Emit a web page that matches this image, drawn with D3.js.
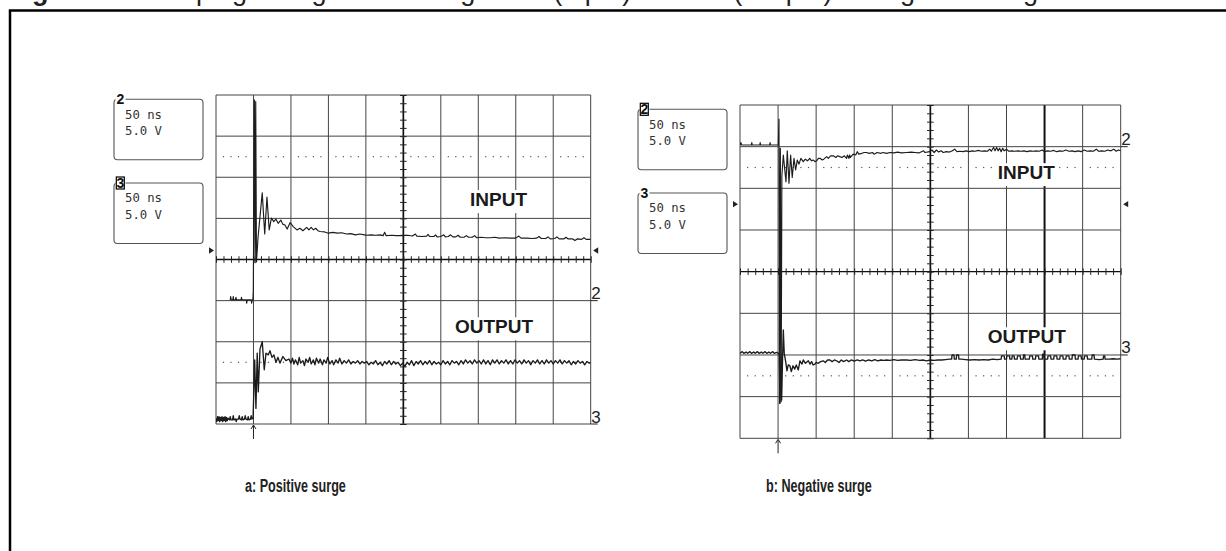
<!DOCTYPE html>
<html><head><meta charset="utf-8">
<script src="https://cdn.jsdelivr.net/npm/d3@7"></script>
<style>
html,body{margin:0;padding:0;background:#fff;overflow:hidden}
</style></head>
<body>
<svg id="c" width="1226" height="551"></svg>
<script>
// ---------------- data ----------------
const titleBold = "Figure 8.";
const titleText = "Clamping voltage at the stages C1 (Input) and C2 (Output) during ESD surge";
const timePerDiv = "50 ns";
const voltPerDiv = "5.0 V";
const timeDomain = [0, 500];        // ns, 10 div x 50 ns
const voltDomain = [-20, 20];       // V, 8 div x 5 V
const majorTimeTicks = [0, 50, 100, 150, 200, 250, 300, 350, 400, 450, 500];
const majorVoltTicks = [-20, -15, -10, -5, 0, 5, 10, 15, 20];
const dottedLevels = [12.5, -12.5];
const triggerTime = 50;
const trigLevelA = 1.1, trigLevelB = 8.1;
const refChannels = ["2", "3"];
const refsA = [-5, -20];
const refsB = [15, -10];
const cursorB = 400;
const traceNames = ["INPUT", "OUTPUT"];
const captions = ["a: Positive surge", "b: Negative surge"];

const inA = [
[19,-4.9],[19.6,-4.5],[20.2,-4.9],[22.5,-4.9],[23,-4.5],[23.6,-4.9],[26,-4.9],[26.7,-4.6],[27.3,-4.9],[33.5,-4.9],[34,-4.6],[34.6,-4.9],[40.5,-4.9],[41,-5.3],[41.6,-4.9],[47,-4.9],[47.6,-5.3],[48.2,-4.9],[49.2,-4.9],[49.8,-3.8],
[51.2,19.4],[52.2,-0.4],[53,19.2],[54,-0.3],
[56.2,2.8],[61.7,8.1],[65,3.1],[68,7.6],[71,3.6],[74,5.05],[77,4.6],[80,4.9],[83,4.4],[86.5,4.8],[89,4.3],[92,4.2],[95,3.7],[99,4.5],[103,4.0],[108,3.6],[112,3.8],[116,3.5],[121,3.9],[124,3.6],[127,3.9],[130,3.6],[133,3.8],[136,3.5],[139,3.4],[145,3.35],[150,3.2],[156,3.3],[162,3.2],[168,3.25],[174,3.1],[180,3.15],[186,3.0],[192,3.1],[198,3.0],[201,2.95],[207,3.0],[213,2.95],[219,3.0],[223,2.9],[225,3.3],[227,2.9],[235,2.95],[240,2.9],[245,2.9],
[250,2.9],[256,2.95],[262,2.85],[266,3.1],[268,2.85],[275,2.8],[281,2.85],[283,3.05],[285,2.8],[291,2.8],[293,3.0],[295,2.75],[300,2.8],[304,3.0],[306,2.75],[310,2.8],[313,3.0],[316,2.75],[320,2.75],[323,2.95],[326,2.7],[331,2.7],[334,2.9],[337,2.7],[342,2.7],[345,2.9],[348,2.65],[354,2.7],[360,2.65],[366,2.65],[372,2.7],[378,2.6],[386,2.65],[392,2.6],[400,2.6],[404,2.85],[407,2.6],[415,2.6],[422,2.55],[428,2.6],[431,2.8],[434,2.55],[440,2.55],[443,2.75],[446,2.5],[452,2.55],[455,2.75],[458,2.5],[464,2.5],[467,2.7],[470,2.5],[476,2.5],[479,2.3],[482,2.5],[488,2.45],[491,2.65],[494,2.45],[500,2.45]
];

const outA = [
[0,-19.3],[1,-19.7],[2,-19.1],[3,-19.6],[4,-19.1],[5,-19.7],[6,-19.2],[7,-19.6],[8,-19.1],[9,-19.7],[10,-19.2],[11,-19.6],[12,-19.1],[13,-19.7],[14,-19.2],[15,-19.6],[16,-19.3],[18,-19.5],[19,-19.1],[20,-19.5],[22,-19.5],[23,-19.0],[24,-19.5],[26,-19.4],[27,-19.7],[28,-19.4],[30,-19.4],[31,-19.0],[32,-19.4],[34,-19.5],[35,-19.1],[36,-19.5],[38,-19.4],[39,-19.0],[40,-19.4],[42,-19.5],[43,-19.1],[44,-19.5],[46,-19.4],[47,-19.0],[48,-19.4],[49.5,-19.3],
[51.6,-12.2],[53.3,-18.1],[55,-11.4],[56.4,-16.1],[58.7,-10.9],[61.7,-10.0],[64.4,-13.4],[66.7,-11.4],[69.7,-11.6],[72,-11.1],[74.7,-11.9],[77.3,-11.6],[80,-12.5],[82.7,-11.9],[85.3,-12.6],[89.3,-11.8],[93.3,-12.3],[97.3,-12.1],
[100,-12.6],[102,-12.0],[104,-12.7],[106,-12.2],[109,-12.8],[111,-11.9],[113,-12.6],[116,-12.3],[118,-12.9],[120,-12.1],[123,-12.5],[125,-11.9],[127,-12.7],[130,-12.2],[132,-12.8],[134,-12.0],[137,-12.6],[139,-12.1],[142,-12.8],[144,-12.2],[147,-12.6],[149,-11.9],[152,-12.7],[155,-12.3],[157,-12.8],[160,-12.2],[163,-12.6],[165,-12.0],[168,-12.7],[171,-12.3],[174,-12.6],[177,-12.2],[180,-12.7],[183,-12.4],[186,-12.6],[189,-12.3],[192,-12.7],[195,-12.4],[198,-12.6],[201,-12.4],[204,-12.8],[207,-12.5],[210,-12.7],[213,-12.3],[216,-12.8],[219,-12.5],[222,-12.9],[225,-12.4],[228,-12.7],[231,-12.3],[234,-12.8],[237,-12.4],[240,-12.7],[243,-12.5],[246,-12.9],[249,-12.6],[252,-13.0],[255,-12.5],[258,-12.8],[261,-12.3],[264,-12.9],[267,-12.4],[270,-12.7],[273,-12.3],[276,-12.8],[279,-12.4],[282,-12.7],[285,-12.3],[288,-12.8],[291,-12.4],[294,-12.7],[297,-12.5],[300,-12.8],[303,-12.3],[306,-12.7],[309,-12.4],[312,-12.8],[315,-12.3],[318,-12.6],[321,-12.4],[324,-12.8],[327,-12.3],[330,-12.7],[333,-12.2],[336,-12.6],[339,-12.3],[342,-12.7],[345,-12.2],[348,-12.6],[351,-12.3],[354,-12.7],[357,-12.2],[360,-12.7],[363,-12.3],[366,-12.8],[369,-12.2],[372,-12.6],[375,-12.2],[378,-12.7],[381,-12.3],[384,-12.6],[387,-12.2],[390,-12.7],[393,-12.3],[396,-12.7],[399,-12.2],[402,-12.6],[405,-12.3],[408,-12.7],[411,-12.2],[414,-12.6],[417,-12.3],[420,-12.8],[423,-12.3],[426,-12.6],[429,-12.2],[432,-12.7],[435,-12.3],[438,-12.7],[441,-12.2],[444,-12.6],[447,-12.3],[450,-12.7],[453,-12.3],[456,-12.6],[459,-12.2],[462,-12.7],[465,-12.3],[468,-12.6],[471,-12.3],[474,-12.8],[477,-12.4],[480,-12.7],[483,-12.3],[486,-12.6],[489,-12.4],[492,-12.8],[495,-12.4],[498,-12.6],[500,-12.5]
];

const inB = [
[0,15.2],[1.3,15.5],[2,15.2],[15,15.2],[15.5,15.5],[16,15.2],[26,15.2],[26.5,15.5],[27,15.2],[39,15.2],[39.5,15.5],[40,15.2],[50.3,15.2],
[51.2,18.3],[52,-15.8],[53,14.8],[54,-15.6],[55,11.5],
[56.9,14.0],[58.6,12.4],[60.4,10.8],[62.1,14.5],[64.3,10.6],[66.5,14.0],[68.6,11.3],[70.9,13.6],[73.1,12.2],[75.2,13.4],[77.4,12.9],[80,13.6],[83.1,13.2],[85.7,13.5],[88.8,13.3],[91.5,13.6],[94,13.3],[96.2,13.4],[98.5,13.2],[100.6,13.3],[103,13.6],[105,13.6],[108,13.4],[110,13.5],[113.8,13.8],[116,13.6],[119,13.9],[122.5,13.9],[126,13.7],[128,13.9],[131,13.8],[134,13.7],[137,13.9],[140,13.6],[141,14.0],[143,13.6],[144,14.0],[145,13.7],[148.7,14.1],[152,14.0],[154,14.4],[156,14.1],[160,14.2],[163,14.3],[166,14.3],[170,14.2],[174,14.3],[176,14.1],[180,14.3],[185,14.2],[188,14.3],[192.5,14.2],[197,14.3],[202,14.25],[207,14.35],[212,14.25],[218.8,14.3],[225,14.35],[230,14.3],[235,14.25],[241,14.5],[243,14.3],[249,14.4],
[252,14.6],[255,14.3],[258,14.6],[261,14.35],[264,14.5],[267,14.3],[271,14.4],[275,14.35],[279,14.5],[282,14.7],[285,14.4],[289,14.45],[293,14.4],[297,14.5],[301,14.4],[305,14.5],[309,14.45],[313,14.55],[317,14.45],[321,14.5],[325,14.45],[328,14.7],[330,14.45],[333,14.9],[335,14.5],[337,14.9],[339,14.5],[341,14.8],[343,14.4],[345,14.8],[347,14.5],[350,14.7],[353,14.45],[357,14.5],[361,14.45],[365,14.5],[369,14.45],[373,14.5],[377,14.4],[381,14.5],[385,14.45],[389,14.5],[393,14.45],[397,14.6],[400,14.4],[404,14.5],[408,14.45],[412,14.55],[416,14.4],[420,14.5],[424,14.45],[428,14.6],[432,14.45],[436,14.5],[440,14.4],[444,14.5],[448,14.4],[452,14.6],[456,14.45],[460,14.5],[464,14.45],[468,14.7],[471,14.45],[475,14.5],[479,14.45],[483,14.6],[487,14.5],[491,14.7],[494,14.45],[497,14.6],[500,14.5]
];

const outB = [
[0,-9.8],[3,-9.6],[5,-9.8],[8,-9.65],[10,-9.8],[13,-9.6],[15,-9.8],[18,-9.65],[20,-9.8],[23,-9.6],[25,-9.8],[28,-9.65],[30,-9.8],[33,-9.6],[35,-9.8],[38,-9.65],[40,-9.8],[43,-9.6],[45,-9.8],[48,-9.7],[50.5,-9.8],
[51.6,-10.0],[52.5,-15.8],[53.8,-10.2],[54.7,-15.4],[56,-10.0],[56.9,-7.0],[58.1,-9.8],[60,-10.8],[61.7,-11.9],[63.4,-11.2],[65.6,-11.3],[67.4,-12.0],[69.6,-11.3],[71.8,-11.7],[73.9,-11.2],[76.6,-11.8],[78.7,-10.7],[81.4,-11.1],[83.1,-10.6],[86,-11.0],[89.7,-10.7],[92,-11.1],[94.1,-10.8],[96,-11.2],[98.4,-11.1],[100,-10.9],[102.8,-11.0],[106,-10.8],[109.3,-10.7],[112,-10.9],[115,-10.6],[118.1,-10.6],[121,-10.8],[124,-10.6],[126.9,-10.7],[130,-10.9],[133,-10.6],[136,-10.8],[140,-10.6],[143,-10.8],[146,-10.6],[150,-10.75],[154,-10.6],[157.5,-10.7],[161,-10.6],[165,-10.75],[169,-10.6],[173,-10.7],[177,-10.55],[181,-10.7],[185,-10.6],[189,-10.65],[192.5,-10.6],[197,-10.65],[202,-10.55],[207,-10.65],[212,-10.6],[218.8,-10.6],[224,-10.65],[230,-10.55],[236,-10.65],[240,-10.6],[245,-10.7],[250,-10.6],[255,-10.65],[260,-10.6],[265,-10.6],[270,-10.55],[275,-10.5],[278,-10.5],[278.5,-10.0],[281,-10.0],[281.5,-10.5],[284,-10.5],[284.5,-10.0],[287,-10.0],[287.5,-10.5],[291,-10.5],[296,-10.55],[302,-10.6],[308,-10.55],[314,-10.6],[320,-10.55],[326,-10.6],[332,-10.5],[338,-10.55],
[343,-10.5],[343.5,-10.1],[347,-10.1],[347.5,-10.5],[350,-10.5],[350.5,-10.1],[354,-10.1],[354.5,-10.5],[357,-10.5],[357.5,-10.1],[360,-10.1],[360.5,-10.5],[364,-10.5],[364.5,-10.1],[368,-10.1],[368.5,-10.5],[372,-10.5],[372.5,-10.0],[374,-10.0],[374.5,-10.5],[380,-10.5],[380.5,-10.1],[384,-10.1],[384.5,-10.5],[388,-10.5],[388.5,-10.1],[392,-10.1],[392.5,-10.5],[397,-10.5],[397.5,-9.9],[399,-9.9],[399.5,-10.5],[404,-10.5],[404.5,-10.1],[408,-10.1],[408.5,-10.5],[412,-10.5],[412.5,-10.1],[416,-10.1],[416.5,-10.5],[420,-10.5],[420.5,-10.1],[424,-10.1],[424.5,-10.5],[428,-10.5],[428.5,-10.1],[432,-10.1],[432.5,-10.5],[436,-10.5],[436.5,-10.0],[440,-10.0],[440.5,-10.5],[444,-10.5],[444.5,-10.1],[448,-10.1],[448.5,-10.5],[452,-10.5],[452.5,-10.1],[456,-10.1],[456.5,-10.5],[462,-10.5],[462.5,-10.0],[465,-10.0],[465.5,-10.5],[472,-10.55],[477,-10.5],[477.5,-10.1],[479,-10.1],[479.5,-10.5],[485,-10.5],[490,-10.45],[495,-10.5],[500,-10.45]
];

// ---------------- drawing ----------------
const svg = d3.select("#c");
const INK = "#1c1c1c", GRID = "#444";
const MONO = "'DejaVu Sans Mono', 'Liberation Mono', monospace";
const NARROW = "'Liberation Sans Narrow', 'Liberation Sans', Arial, sans-serif";
const SANS = "'Liberation Sans', Arial, sans-serif";

// outer frame and clipped title
svg.append("rect").attr("x", 10).attr("y", 10.5).attr("width", 1240).attr("height", 560)
  .attr("fill", "none").attr("stroke", "#000").attr("stroke-width", 2.5);
const title = svg.append("text").attr("y", -0.5).attr("font-family", SANS).attr("font-size", 27).attr("fill", "#222");
title.append("tspan").attr("x", 8).attr("font-weight", "bold").text(titleBold);
title.append("tspan").attr("x", 133).text(titleText);

function scope(cfg, idx) {
  const g = svg.append("g");
  const x = d3.scaleLinear().domain(timeDomain).range([cfg.left, cfg.left + cfg.width]);
  const y = d3.scaleLinear().domain(voltDomain).range([cfg.top + cfg.height, cfg.top]);
  const x0 = x(timeDomain[0]), x1 = x(timeDomain[1]);
  const y0 = y(voltDomain[0]), y1 = y(voltDomain[1]);

  // grid
  g.selectAll(".gv").data(majorTimeTicks).join("line")
    .attr("x1", d => x(d)).attr("x2", d => x(d)).attr("y1", y1).attr("y2", y0)
    .attr("stroke", d => (d === 250 || d === cfg.cursor) ? "#111" : GRID)
    .attr("stroke-width", d => d === 250 ? 1.7 : (d === cfg.cursor ? 2 : 1));
  g.selectAll(".gh").data(majorVoltTicks).join("line")
    .attr("x1", x0).attr("x2", x1).attr("y1", d => y(d)).attr("y2", d => y(d))
    .attr("stroke", d => d === 0 ? "#111" : GRID)
    .attr("stroke-width", d => d === 0 ? 1.3 : 1);

  // dotted graticule rows
  const dotT = d3.range(10, 500, 10).filter(t => t % 50 !== 0);
  dottedLevels.forEach(v => {
    g.selectAll(null).data(dotT).join("rect")
      .attr("x", d => x(d) - 0.6).attr("y", y(v) - 0.6).attr("width", 1.2).attr("height", 1.2)
      .attr("fill", "#555");
  });

  // minor ticks on centre axes using d3 axes
  const minorT = d3.range(0, 501, 10);
  const minorV = d3.range(-20, 20.01, 1);
  const ax = g.append("g").attr("transform", `translate(0,${y(0) - 3.3})`)
    .call(d3.axisBottom(x).tickValues(minorT).tickSize(6.6).tickFormat(""));
  const ay = g.append("g").attr("transform", `translate(${x(250) + 3.3},0)`)
    .call(d3.axisLeft(y).tickValues(minorV).tickSize(6.6).tickFormat(""));
  [ax, ay].forEach(a => {
    a.select(".domain").remove();
    a.selectAll("text").remove();
    a.selectAll("line").attr("stroke", "#222").attr("stroke-width", 1);
  });

  // knock-out labels INPUT / OUTPUT
  cfg.names.forEach((n, i) => {
    const lg = g.append("g");
    const bg = lg.append("rect").attr("fill", "#fff");
    const t = lg.append("text").attr("x", x(n.t)).attr("y", y(n.v))
      .attr("text-anchor", "middle").attr("font-family", SANS).attr("font-weight", "bold")
      .attr("font-size", 19).attr("fill", "#1a1a1a").text(traceNames[i]);
    const bb = t.node().getBBox();
    bg.attr("x", bb.x - 3).attr("y", bb.y + 1).attr("width", bb.width + 6).attr("height", bb.height + 2);
  });

  // traces
  const clipId = "clip" + idx;
  svg.append("clipPath").attr("id", clipId).append("rect")
    .attr("x", x0).attr("y", y1).attr("width", x1 - x0).attr("height", y0 - y1);
  const line = d3.line().x(d => x(d[0])).y(d => y(d[1]));
  cfg.traces.forEach((tr, i) => {
    g.append("path").datum(tr).attr("d", line).attr("fill", "none")
      .attr("stroke", INK).attr("stroke-width", i === 1 ? 1.35 : 1.15).attr("stroke-linejoin", "round")
      .attr("clip-path", `url(#${clipId})`);
  });

  // channel reference marks on the right
  cfg.refs.forEach((r, i) => {
    g.append("line").attr("x1", x1).attr("x2", x1 + 7).attr("y1", y(r)).attr("y2", y(r))
      .attr("stroke", "#222").attr("stroke-width", 1);
    g.append("text").attr("x", x1 + 0.5).attr("y", y(r) - 1.5)
      .attr("font-family", NARROW).attr("font-size", 17).attr("fill", "#222").text(refChannels[i]);
  });

  // trigger level markers
  const ty = y(cfg.trig);
  g.append("path").attr("d", `M${x0 - 7},${ty - 3.2}L${x0 - 2},${ty}L${x0 - 7},${ty + 3.2}Z`).attr("fill", "#222");
  g.append("path").attr("d", `M${x1 + 7.5},${ty - 3.2}L${x1 + 2.5},${ty}L${x1 + 7.5},${ty + 3.2}Z`).attr("fill", "#222");

  // trigger time arrow
  const tx = x(triggerTime);
  g.append("line").attr("x1", tx).attr("x2", tx).attr("y1", y0 + 1.5).attr("y2", y0 + 15)
    .attr("stroke", "#222").attr("stroke-width", 1);
  g.append("path").attr("d", `M${tx - 2.5},${y0 + 5}L${tx},${y0 + 1}L${tx + 2.5},${y0 + 5}`)
    .attr("fill", "none").attr("stroke", "#222").attr("stroke-width", 1);

  // channel setting boxes
  const bl = cfg.left - 102, bw = 89, bh = 60.5;
  [4.3, 88].forEach((off, i) => {
    const bt = cfg.top + off;
    g.append("rect").attr("x", bl).attr("y", bt).attr("width", bw).attr("height", bh)
      .attr("rx", 3.5).attr("fill", "#fff").attr("stroke", "#555").attr("stroke-width", 1.1);
    g.append("rect").attr("x", bl + 1.5).attr("y", bt - 6).attr("width", 10).attr("height", 10).attr("fill", "#fff");
    if (cfg.active === i) {
      g.append("rect").attr("x", bl + 2.3).attr("y", bt - 6).attr("width", 8).attr("height", 12)
        .attr("fill", "#fff").attr("stroke", "#000").attr("stroke-width", 1.2);
    }
    g.append("text").attr("x", bl + 6.3).attr("y", bt + 5).attr("text-anchor", "middle")
      .attr("font-family", SANS).attr("font-weight", "bold").attr("font-size", 14)
      .attr("fill", "#111").text(refChannels[i]);
    g.append("text").attr("x", bl + 11).attr("y", bt + 19.3).attr("font-family", MONO)
      .attr("font-size", 12.3).attr("fill", "#333").text(timePerDiv);
    g.append("text").attr("x", bl + 11).attr("y", bt + 35.5).attr("font-family", MONO)
      .attr("font-size", 12.3).attr("fill", "#333").text(voltPerDiv);
  });

  // caption (condensed bold)
  const cap = svg.append("text").attr("x", cfg.capX).attr("y", 492).attr("font-family", SANS)
    .attr("font-weight", "bold").attr("font-size", 18).attr("fill", "#222").text(captions[idx]);
  const w = cap.node().getComputedTextLength();
  cap.attr("textLength", w * 0.7).attr("lengthAdjust", "spacingAndGlyphs");
}

scope({left: 216, top: 95, width: 374.7, height: 329, traces: [inA, outA], refs: refsA,
  trig: trigLevelA, active: 1, cursor: null,
  names: [{t: 377, v: 6.5}, {t: 371, v: -8.97}], capX: 245}, 0);
scope({left: 740, top: 105, width: 380.7, height: 333.3, traces: [inB, outB], refs: refsB,
  trig: trigLevelB, active: 0, cursor: cursorB,
  names: [{t: 376, v: 11.1}, {t: 376.6, v: -8.6}], capX: 766}, 1);
</script>
</body></html>
